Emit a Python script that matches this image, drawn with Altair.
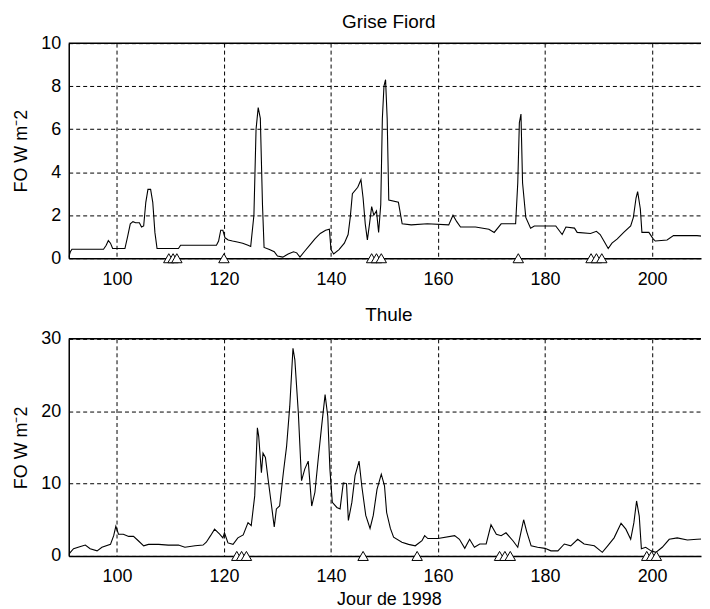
import altair as alt
import pandas as pd

# ---------------- data ----------------
gf_day = [91.0, 91.3, 91.6, 97.5, 98.0, 98.4, 98.8, 99.2, 101.5, 102.0, 102.5, 103.0, 103.5,
          104.2, 104.6, 105.0, 105.4, 105.8, 106.3, 106.7, 107.1, 107.5, 111.5, 111.9, 118.6,
          119.0, 119.4, 119.8, 120.2, 120.8, 121.6, 122.5, 123.5, 124.5, 125.0, 125.6, 126.0,
          126.4, 126.8, 127.2, 127.5, 128.5, 129.4, 130.0, 131.0, 132.0, 133.0, 133.6, 134.2,
          135.0, 136.0, 137.0, 138.0, 139.0, 139.7, 140.0, 140.5, 141.5, 142.5, 143.2, 143.6,
          144.0, 145.0, 145.6, 146.0, 146.4, 146.8, 147.2, 147.6, 148.0, 148.5, 148.9, 149.3,
          149.6, 149.9, 150.2, 150.5, 150.8, 152.6, 153.3, 155.0, 158.0, 162.0, 162.8, 163.5,
          164.2, 167.0, 169.5, 170.5, 171.8, 174.5, 174.9, 175.2, 175.5, 175.8, 176.4, 177.3,
          178.0, 182.0, 183.2, 183.9, 185.5, 186.0, 188.5, 189.6, 190.3, 191.0, 191.8, 192.5,
          193.5, 194.7, 196.0, 196.5, 197.0, 197.3, 197.8, 198.1, 199.4, 200.2, 200.6, 202.8,
          204.0, 208.4, 210.5, 211.0]
gf_val = [0.05, 0.3, 0.42, 0.42, 0.6, 0.82, 0.7, 0.45, 0.45, 1.0, 1.6, 1.7, 1.65,
          1.65, 1.45, 1.5, 2.6, 3.2, 3.2, 2.6, 1.2, 0.45, 0.45, 0.6, 0.6,
          0.8, 1.3, 1.3, 0.95, 0.85, 0.8, 0.75, 0.7, 0.6, 0.55, 2.0, 6.0,
          7.0, 6.5, 2.5, 0.5, 0.4, 0.3, 0.1, 0.05, 0.2, 0.3, 0.25, 0.05,
          0.3, 0.6, 0.9, 1.15, 1.3, 1.35, 0.4, 0.2, 0.4, 0.7, 1.1, 1.9,
          3.0, 3.3, 3.65, 2.8, 1.6, 0.85, 1.6, 2.4, 2.0, 2.2, 1.2, 2.5,
          6.5, 8.0, 8.3, 6.5, 2.7, 2.6, 1.6, 1.55, 1.6, 1.55, 2.0, 1.7,
          1.45, 1.45, 1.35, 1.2, 1.6, 1.6, 3.5, 6.3, 6.7, 3.5, 1.9, 1.4,
          1.5, 1.5, 1.1, 1.45, 1.4, 1.2, 1.15, 1.25, 1.1, 0.8, 0.45, 0.7,
          0.9, 1.2, 1.5, 1.9, 2.8, 3.1, 2.3, 1.2, 1.2, 0.9, 0.8, 0.85,
          1.05, 1.05, 1.0, 0.95]

th_day = [91.0, 91.3, 91.9, 93.2, 94.1, 95.0, 96.3, 97.2, 98.8, 99.4, 99.8, 100.3, 101.2,
          102.2, 103.1, 104.0, 105.0, 105.9, 107.8, 109.6, 111.5, 112.7, 114.6, 116.1, 116.7,
          117.5, 118.25, 119.2, 119.8, 120.1, 120.75, 121.7, 122.6, 123.6, 124.5, 125.1, 125.75,
          126.25, 126.5, 127.0, 127.3, 127.75, 128.25, 128.9, 129.4, 129.8, 130.4, 131.1, 131.7,
          132.3, 132.9, 133.25, 133.9, 134.5, 135.1, 135.75, 136.4, 137.0, 137.6, 138.25, 138.9,
          139.4, 139.8, 140.25, 141.1, 141.7, 142.3, 142.9, 143.25, 143.9, 144.5, 145.25, 145.75,
          146.5, 147.3, 147.9, 148.6, 149.4, 150.0, 150.4, 151.1, 151.7, 153.25, 154.5, 155.75,
          157.0, 157.5, 158.1, 160.0, 163.1, 164.0, 165.0, 165.9, 166.8, 167.8, 169.0, 169.9,
          170.9, 171.8, 172.7, 174.0, 174.9, 175.5, 176.0, 176.6, 177.4, 178.6, 180.0, 181.1,
          182.4, 183.6, 184.8, 186.1, 187.3, 189.2, 190.7, 191.7, 192.9, 194.2, 195.1, 196.0,
          196.6, 197.1, 197.6, 198.0, 198.8, 199.8, 200.7, 201.9, 203.2, 204.7, 206.6, 208.4,
          211.0]
th_val = [0.2, 0.5, 1.0, 1.3, 1.5, 1.0, 0.7, 1.2, 1.6, 2.8, 4.1, 3.0, 3.0,
          2.7, 2.7, 2.1, 1.4, 1.6, 1.6, 1.5, 1.5, 1.2, 1.4, 1.5, 1.9,
          2.8, 3.7, 3.0, 2.5, 3.2, 1.8, 1.6, 2.5, 2.9, 4.6, 4.2, 8.3,
          17.7, 16.5, 11.5, 14.2, 13.6, 10.6, 6.9, 4.0, 6.5, 6.9, 11.5, 15.1,
          20.7, 28.7, 27.1, 19.8, 10.4, 12.0, 13.1, 6.9, 8.8, 13.3, 17.9, 22.3,
          19.3, 12.0, 7.4, 6.7, 6.5, 10.1, 10.0, 4.9, 7.4, 11.1, 13.1, 9.7,
          5.6, 3.8, 5.6, 9.2, 11.3, 9.7, 6.0, 3.8, 2.6, 1.9, 1.6, 1.4,
          2.1, 2.8, 2.4, 2.4, 2.8, 2.3, 1.05, 2.3, 1.2, 1.65, 1.65, 4.3,
          3.0, 2.8, 3.2, 2.1, 1.2, 3.3, 5.0, 3.3, 1.4, 1.2, 1.05, 0.7,
          0.7, 1.65, 1.4, 2.3, 1.65, 1.4, 0.5, 1.4, 2.5, 4.5, 3.7, 2.3,
          4.6, 7.6, 5.5, 1.0, 1.2, 0.7, 0.5, 1.2, 2.3, 2.5, 2.2, 2.3,
          2.4]

gf_events = [109.7, 110.5, 111.2, 120.0, 147.6, 148.5, 149.4, 175.0, 188.6, 189.6, 190.6]
th_events = [122.4, 123.3, 124.2, 146.0, 156.1, 171.5, 172.5, 173.5, 199.0, 199.9, 200.8]

x_ticks = [100, 120, 140, 160, 180, 200]
gf_yticks = [0, 2, 4, 6, 8, 10]
th_yticks = [0, 10, 20, 30]

# ---------------- layout ----------------
W = 635
X_DOMAIN = [91, 91 + W / 5.375]
FONT = "Liberation Sans"


def panel(days, vals, events, title, ymax, yticks, xtitle, h, title_offset):
    line_df = pd.DataFrame({"day": days, "fo": vals})
    ev_df = pd.DataFrame({"day": events, "fo": [0] * len(events)})
    if xtitle is None:
        x_axis = alt.Axis(values=x_ticks, title=None, labelFlush=False)
    else:
        x_axis = alt.Axis(values=x_ticks, title=xtitle, labelFlush=False,
                          titleX=W / 2 + 4, titlePadding=5)
    x = alt.X("day:Q", scale=alt.Scale(domain=X_DOMAIN, nice=False, zero=False), axis=x_axis)
    y = alt.Y("fo:Q", scale=alt.Scale(domain=[0, ymax], nice=False),
              axis=alt.Axis(values=yticks, title="FO W m\u207b2", labelFlush=False))
    line = alt.Chart(line_df).mark_line(color="black", strokeWidth=1.1, clip=True).encode(x=x, y=y)
    tri = alt.Chart(ev_df).mark_point(shape="triangle-up", filled=True, fill="white",
                                      stroke="black", strokeWidth=1, size=110,
                                      opacity=1).encode(x="day:Q", y="fo:Q")
    frame = alt.Chart(pd.DataFrame({"k": [0]})).mark_rule(color="black", strokeWidth=1.5).encode(
        x=alt.value(0), x2=alt.value(W), y=alt.value(0))
    return alt.layer(line, tri, frame).properties(
        width=W, height=h,
        title=alt.TitleParams(title, fontSize=19, font=FONT, fontWeight="normal",
                              color="black", dx=4, offset=title_offset))


top = panel(gf_day, gf_val, gf_events, "Grise Fiord", 10, gf_yticks, None, 216, 2)
bottom = panel(th_day, th_val, th_events, "Thule", 30, th_yticks, "Jour de 1998", 218, 5)

chart = alt.vconcat(top, bottom, spacing=18).properties(
    padding={"left": 4, "top": 4, "right": 0, "bottom": 0},
    background="white"
).configure_view(stroke=None).configure_axis(
    labelFont=FONT, labelFontSize=18, labelColor="black",
    titleFont=FONT, titleFontSize=18, titleFontWeight="normal", titleColor="black",
    titlePadding=10, domainColor="black", domainWidth=1.5, ticks=False,
    grid=True, gridColor="black", gridDash=[4, 3], gridWidth=1, gridOpacity=1,
    labelOverlap=False
).configure_axisX(labelPadding=12).configure_axisY(labelPadding=8)

chart.save("out.html", embed_options={"renderer": "svg", "actions": False})
